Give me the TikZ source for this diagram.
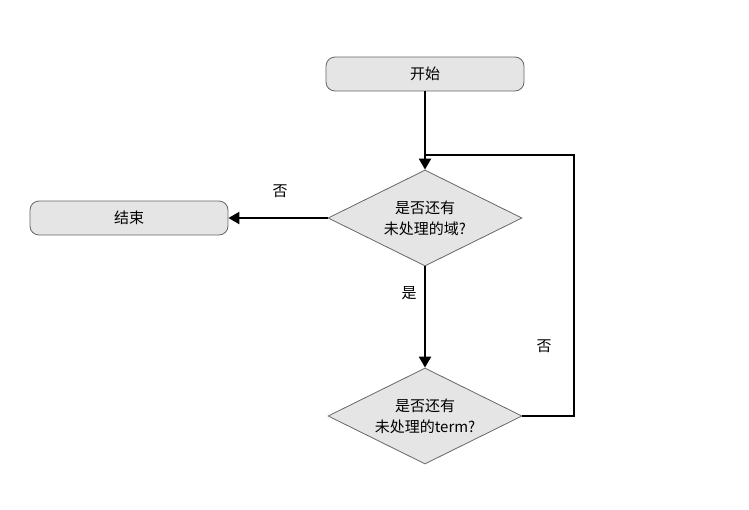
\documentclass[tikz,border=0pt]{standalone}
\usepackage{fontspec}
\setmainfont{Noto Sans CJK SC}
\usetikzlibrary{shapes.geometric,arrows.meta}
\begin{document}
\begin{tikzpicture}[x=1pt,y=-1pt,
  term/.style={draw=gray!80!black,fill=gray!20,rounded corners=9pt,minimum width=198pt,minimum height=34pt,line width=0.8pt,font=\fontsize{15}{18}\selectfont,inner sep=0pt},
  decision/.style={draw=gray!80!black,fill=gray!20,diamond,aspect=2.02,minimum width=194pt,minimum height=96pt,line width=0.8pt,font=\fontsize{15}{21}\selectfont,align=center,inner sep=0pt},
  conn/.style={line width=2.2pt,-{Triangle[length=11pt,width=12pt]}},
  line/.style={line width=2.2pt},
  lbl/.style={font=\fontsize{15}{18}\selectfont}]
\useasboundingbox (0,0) rectangle (749,509);
\node[term] (start) at (425,74) {开始};
\node[term] (end) at (129,218) {结束};
\node[decision] (d1) at (425,218) {是否还有\\未处理的域?};
\node[decision] (d2) at (425,416) {是否还有\\未处理的term?};
\coordinate (j) at (425,155);
\coordinate (r1) at (574,416);
\coordinate (r2) at (574,155);
\draw[conn] (start.south) -- (d1.north);
\draw[conn] (d1.west) -- (end.east);
\draw[conn] (d1.south) -- (d2.north);
\draw[line] (d2.east) -- (r1) -- (r2) -- (j);
\node[lbl] (l1) at (280,191) {否};
\node[lbl] (l2) at (409,293) {是};
\node[lbl] (l3) at (544,346) {否};
\end{tikzpicture}
\end{document}
